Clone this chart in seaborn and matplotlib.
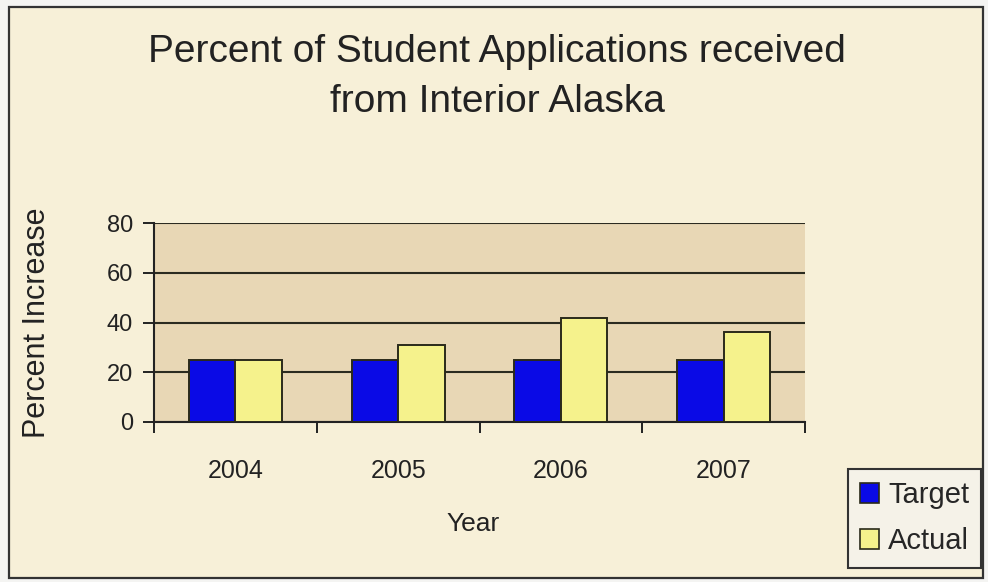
import matplotlib
matplotlib.use("Agg")
import matplotlib.pyplot as plt
from matplotlib.patches import Rectangle, Patch
import seaborn as sns
import pandas as pd

# Chart data
years = ["2004", "2005", "2006", "2007"]
target = [25, 25, 25, 25]
actual = [25, 31, 42, 36]
series_names = ["Target", "Actual"]
y_ticks = [0, 20, 40, 60, 80]

df = pd.DataFrame({
    "Year": years * 2,
    "Percent Increase": target + actual,
    "Series": [series_names[0]] * len(years) + [series_names[1]] * len(years),
})

sns.set_theme(style="white")
plt.rcParams["font.family"] = ["Liberation Sans", "DejaVu Sans"]

W, H = 988, 582
fig = plt.figure(figsize=(W / 100, H / 100), dpi=100)
fig.patch.set_facecolor("#f4f4f2")

# chart area with a dark border
fig.add_artist(Rectangle((9 / W, 1 - 578 / H), (983 - 9) / W, (578 - 7) / H,
                         transform=fig.transFigure, facecolor="#f7f0d8",
                         edgecolor="#333333", linewidth=1.6, zorder=0))

left, right, top, bottom = 154, 805, 223, 422
ax = fig.add_axes([left / W, 1 - bottom / H, (right - left) / W, (bottom - top) / H])
ax.set_facecolor("#e8d7b5")

palette = {"Target": "#0a0ae6", "Actual": "#f5f28c"}
sns.barplot(data=df, x="Year", y="Percent Increase", hue="Series",
            palette=palette, width=0.572, dodge=True, ax=ax,
            edgecolor="#2a2a1a", linewidth=1.4, saturation=1, legend=False,
            zorder=3)

ax.set_ylim(0, 80)
ax.set_xlim(-0.5, len(years) - 0.5)
ax.set_yticks(y_ticks)
ax.set_yticklabels([str(v) for v in y_ticks], fontsize=17, color="#222222")
ax.yaxis.grid(True, color="#2b2b20", linewidth=1.5, zorder=1)
ax.set_axisbelow(True)

# category labels centred, tick marks on the category boundaries
ax.set_xticks(range(len(years)))
ax.set_xticklabels(years, fontsize=18, color="#222222")
ax.set_xticks([i - 0.5 for i in range(len(years) + 1)], minor=True)
ax.tick_params(axis="x", which="major", length=0, pad=27)
ax.tick_params(axis="x", which="minor", length=8, width=1.4, color="#222222",
               direction="out", bottom=True)
ax.tick_params(axis="y", which="major", length=8, width=1.4, color="#222222",
               direction="out", left=True, pad=7)

for side in ("top", "right"):
    ax.spines[side].set_visible(False)
for side in ("left", "bottom"):
    ax.spines[side].set_visible(True)
    ax.spines[side].set_color("#222222")
    ax.spines[side].set_linewidth(1.5)

ax.set_xlabel("Year", fontsize=19, color="#222222")
ax.set_ylabel("Percent Increase", fontsize=22, color="#222222")
ax.xaxis.set_label_coords(0.49, (422 - 512) / (bottom - top))
ax.yaxis.set_label_coords((52 - left) / (right - left), 0.5)

fig.text(497 / W, 1 - 52 / H, "Percent of Student Applications received",
         ha="center", va="center", fontsize=28, color="#222222")
fig.text(497 / W, 1 - 102 / H, "from Interior Alaska",
         ha="center", va="center", fontsize=28, color="#222222")

handles = [Patch(facecolor=palette[s], edgecolor="#2a2a1a", linewidth=1.2)
           for s in series_names]
leg = fig.legend(handles, series_names, loc="upper left",
                 bbox_to_anchor=(848 / W, 1 - 469 / H), fontsize=21,
                 frameon=True, fancybox=False, handlelength=0.65,
                 handleheight=0.7, handletextpad=0.3, borderpad=0.42,
                 labelspacing=0.62, borderaxespad=0)
leg.get_frame().set_facecolor("#f5f2e8")
leg.get_frame().set_edgecolor("#333333")
leg.get_frame().set_linewidth(1.5)
leg.get_frame().set_alpha(1)

fig.savefig("out.png", dpi=100, facecolor=fig.get_facecolor())
